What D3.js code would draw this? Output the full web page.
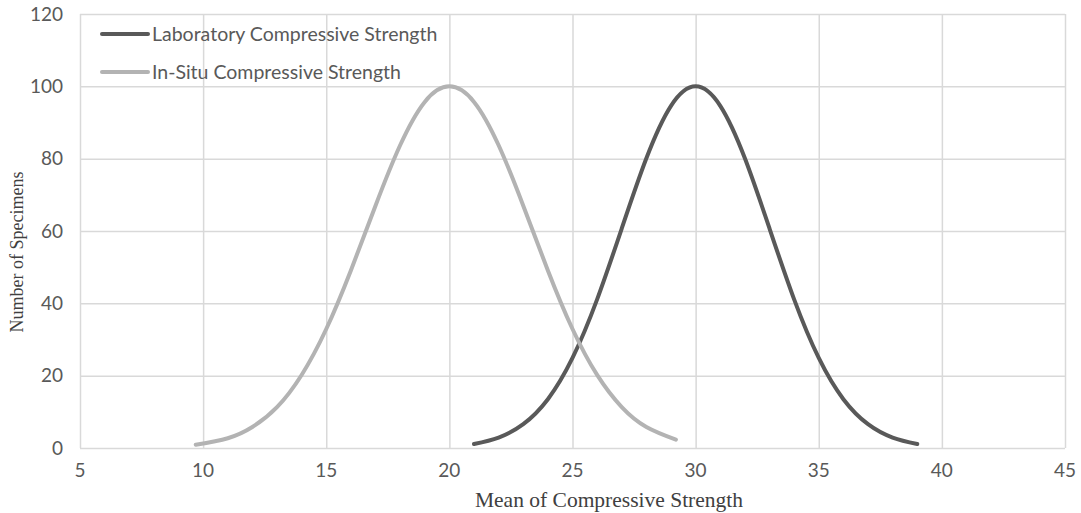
<!DOCTYPE html>
<html lang="en">
<head>
  <meta charset="UTF-8">
  <title>Laboratory vs In-Situ Compressive Strength</title>
  <script src="https://d3js.org/d3.v7.min.js"></script>
  <style>
    body { margin: 0; background: #fff; font-family: Lato, "Open Sans", sans-serif; }
    .grid line { stroke: #d9d9d9; stroke-width: 1.5; }
    .grid path { display: none; }
    .tick-label { font-size: 19px; fill: #595959; }
    .axis-title { font-family: "Liberation Serif", "Times New Roman", serif; font-size: 18px; fill: #404040; }
    .legend-text { font-size: 19.5px; fill: #595959; }
    .curve { fill: none; stroke-width: 4; stroke-linecap: round; }
  </style>
</head>
<body>
<div id="chart"></div>
<script>
  // x = mean compressive strength, y = number of specimens
  const labX = [21, 22, 23, 24, 25, 26, 27, 28, 29, 30, 31, 32, 33, 34, 35, 36, 37, 38, 39];
  const labY = [1.1, 2.9, 6.6, 13.5, 24.9, 41.1, 60.7, 80.1, 94.6, 100, 94.6, 80.1, 60.7, 41.1, 24.9, 13.5, 6.6, 2.9, 1.1];

  const situX = [9.7, 11, 12, 13, 14, 15, 16, 17, 18, 19, 20, 21, 22, 23, 24, 25, 26, 27, 28, 29.2];
  const situY = [0.9, 2.7, 5.8, 11.3, 20.2, 32.9, 49.1, 67.0, 83.7, 95.7, 100, 95.7, 83.7, 67.0, 49.1, 32.9, 20.2, 11.3, 5.8, 2.3];

  const xTicks = [5, 10, 15, 20, 25, 30, 35, 40, 45];
  const yTicks = [0, 20, 40, 60, 80, 100, 120];

  const series = [
    { name: "Laboratory Compressive Strength", xs: labX, ys: labY, color: "#595959" },
    { name: "In-Situ Compressive Strength", xs: situX, ys: situY, color: "#b3b3b3" }
  ];

  const svgWidth = 1081, svgHeight = 513;
  const margin = { top: 14, right: 16, bottom: 65, left: 80 };
  const width = svgWidth - margin.left - margin.right;
  const height = svgHeight - margin.top - margin.bottom;

  const x = d3.scaleLinear().domain([5, 45]).range([0, width]);
  const y = d3.scaleLinear().domain([0, 120]).range([height, 0]);

  const svg = d3.select("#chart").append("svg")
    .attr("width", svgWidth)
    .attr("height", svgHeight)
    .append("g")
    .attr("transform", `translate(${margin.left},${margin.top})`);

  // gridlines
  svg.append("g")
    .attr("class", "grid")
    .call(d3.axisLeft(y).tickValues(yTicks).tickSize(-width).tickFormat(""));
  svg.append("g")
    .attr("class", "grid")
    .attr("transform", `translate(0,${height})`)
    .call(d3.axisBottom(x).tickValues(xTicks).tickSize(height).tickFormat(""))
    .selectAll(".tick line").attr("y2", -height);

  // tick labels
  svg.selectAll(".ylab")
    .data(yTicks).enter().append("text")
    .attr("class", "tick-label")
    .attr("x", -17)
    .attr("y", d => y(d))
    .attr("dy", "0.35em")
    .attr("text-anchor", "end")
    .text(d => d);

  svg.selectAll(".xlab")
    .data(xTicks).enter().append("text")
    .attr("class", "tick-label")
    .attr("x", d => x(d))
    .attr("y", height + 29)
    .attr("text-anchor", "middle")
    .text(d => d);

  // curves
  const line = d3.line()
    .x(d => x(d[0]))
    .y(d => y(d[1]))
    .curve(d3.curveNatural);

  series.forEach(s => {
    svg.append("path")
      .datum(s.xs.map((v, i) => [v, s.ys[i]]))
      .attr("class", "curve")
      .attr("stroke", s.color)
      .attr("d", line);
  });

  // legend
  const legend = svg.append("g").attr("transform", "translate(20,20)");
  series.forEach((s, i) => {
    const g = legend.append("g").attr("transform", `translate(0,${i * 38})`);
    g.append("line")
      .attr("x1", 2).attr("x2", 48)
      .attr("stroke", s.color)
      .attr("stroke-width", 4)
      .attr("stroke-linecap", "round");
    g.append("text")
      .attr("class", "legend-text")
      .attr("x", 52)
      .attr("dy", "0.35em")
      .text(s.name);
  });

  // axis titles
  svg.append("text")
    .attr("class", "axis-title")
    .style("font-size", "21.5px")
    .attr("x", 529)
    .attr("y", height + 59)
    .attr("text-anchor", "middle")
    .text("Mean of Compressive Strength");

  svg.append("text")
    .attr("class", "axis-title")
    .attr("transform", "rotate(-90)")
    .attr("x", -(height / 2) - 21)
    .attr("y", -margin.left + 23)
    .attr("text-anchor", "middle")
    .text("Number of Specimens");
</script>
</body>
</html>
